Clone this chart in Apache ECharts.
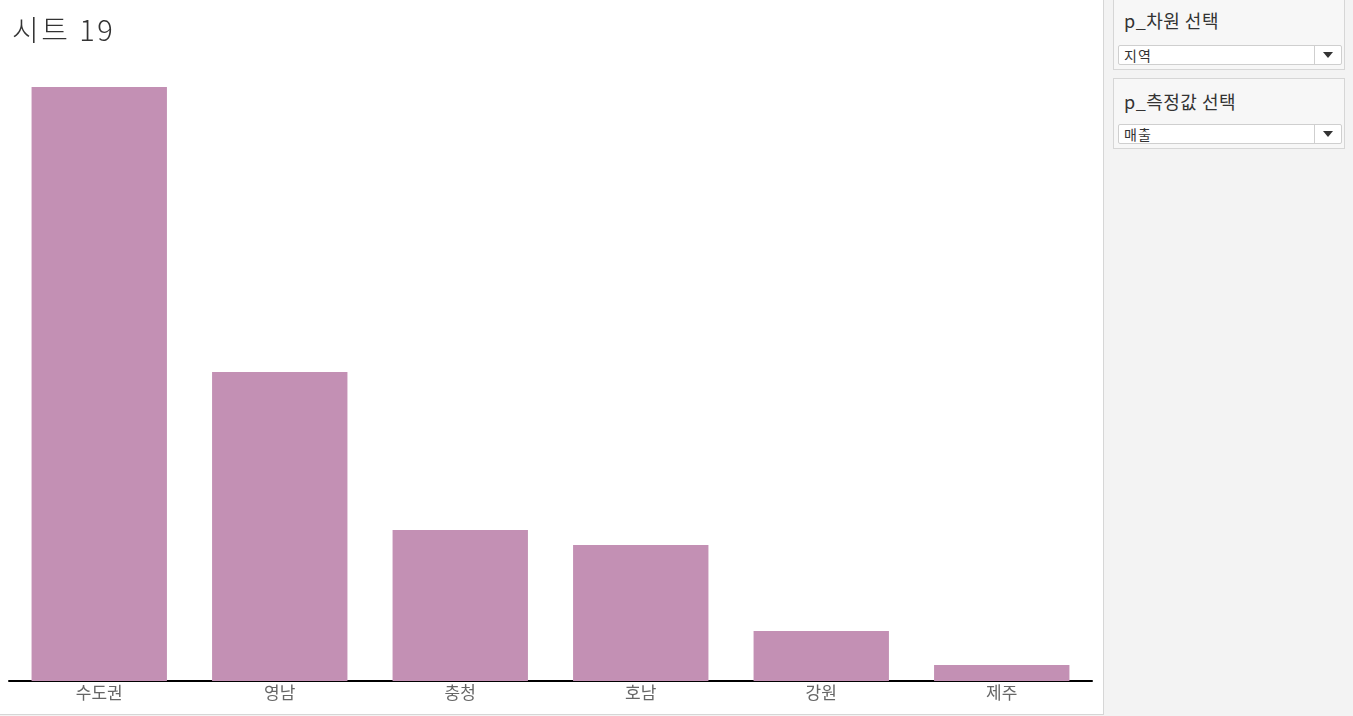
<!DOCTYPE html>
<html>
<head>
<meta charset="utf-8">
<script src="https://cdn.jsdelivr.net/npm/echarts@6/dist/echarts.min.js"></script>
<style>
  html, body { margin: 0; padding: 0; background: #f3f3f3; width: 1353px; height: 716px; overflow: hidden;
    font-family: "Noto Sans CJK KR", "Noto Sans", sans-serif; }
  .sheet { position: absolute; left: 0; top: 0; width: 1104px; height: 715px; background: #fff;
    border-right: 1px solid #d6d6d6; border-bottom: 1px solid #d6d6d6; box-sizing: border-box; }
  .title { position: absolute; left: 12px; top: 7px; font-size: 29px; font-weight: 300; letter-spacing: 2.5px; color: #333; z-index: 2; }
  .chart { position: absolute; left: 0; top: 0; width: 1103px; height: 714px; }
  .param { position: absolute; left: 1113px; width: 232px; background: #f7f7f7; border: 1px solid #d6d6d6; box-sizing: border-box; }
  .param .lbl { position: absolute; left: 10px; font-size: 18px; letter-spacing: 0.5px; color: #333; }
  .param .sel { position: absolute; left: 4px; width: 224px; height: 20px; background: #fff; border: 1px solid #cfcfcf;
    border-radius: 2px; box-sizing: border-box; font-size: 14px; letter-spacing: 1px; color: #333; line-height: 18px; padding-left: 5px; }
  .param .sel .btn { position: absolute; right: 0; top: 0; width: 26px; height: 18px; border-left: 1px solid #cfcfcf; }
  .param .sel .btn::after { content: ""; position: absolute; left: 8px; top: 6px; border-left: 5px solid transparent;
    border-right: 5px solid transparent; border-top: 6px solid #333; }
</style>
</head>
<body>
<div class="sheet">
  <div class="title">시트 19</div>
  <div class="chart" id="chart"></div>
</div>
<div class="param" style="top:-1px;height:71px;">
  <div class="lbl" style="top:7px;">p_차원 선택</div>
  <div class="sel" style="top:45px;">지역<div class="btn"></div></div>
</div>
<div class="param" style="top:78px;height:71px;">
  <div class="lbl" style="top:9px;">p_측정값 선택</div>
  <div class="sel" style="top:45px;">매출<div class="btn"></div></div>
</div>
<script>
// 지역별 매출 (그림에서 읽은 상대값)
const regions = ['수도권', '영남', '충청', '호남', '강원', '제주'];
const sales = [594, 309, 151, 136, 50, 16];

let myChart = echarts.init(document.getElementById('chart'));
let option = {
  animation: false,
  grid: { left: 9, right: 11, top: 87, bottom: 33 },
  xAxis: {
    type: 'category',
    data: regions,
    axisLine: { lineStyle: { color: '#000', width: 2 } },
    axisTick: { show: false },
    axisLabel: { color: '#666', fontSize: 17, margin: 3, fontFamily: 'Noto Sans CJK KR' }
  },
  yAxis: {
    type: 'value',
    min: 0,
    max: 'dataMax',
    show: false,
    splitLine: { show: false }
  },
  series: [{
    type: 'bar',
    data: sales,
    barWidth: '75%',
    itemStyle: { color: '#c390b4' }
  }]
};
myChart.setOption(option);
</script>
</body>
</html>
